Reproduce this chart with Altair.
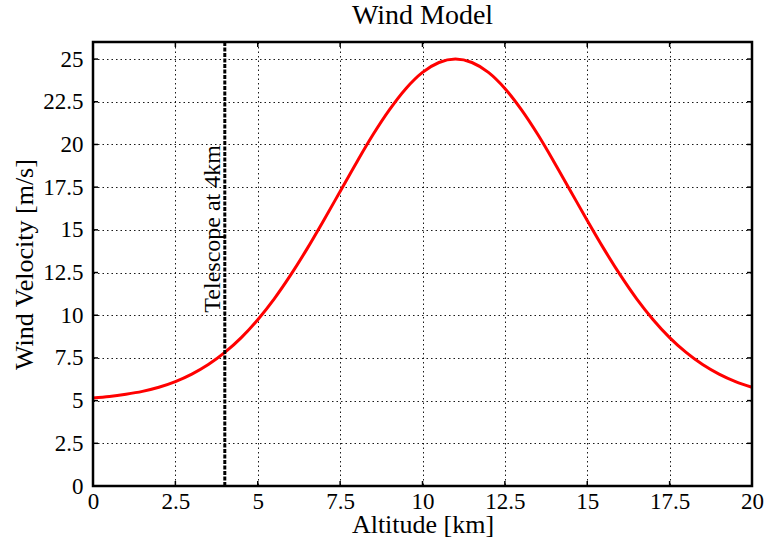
import altair as alt
import pandas as pd

# Altitude (km) and wind velocity (m/s)
altitude = [0, 0.5, 1, 1.5, 2, 2.5, 3, 3.5, 4, 4.5, 5, 5.5, 6, 6.5, 7, 7.5, 8, 8.5, 9, 9.5, 10, 10.5,
            11, 11.5, 12, 12.5, 13, 13.5, 14, 14.5, 15, 15.5, 16, 16.5, 17, 17.5, 18, 18.5, 19, 19.5, 20]
velocity = [5.16, 5.24, 5.37, 5.54, 5.78, 6.11, 6.55, 7.11, 7.82, 8.69, 9.74, 10.96, 12.36, 13.90, 15.55,
            17.25, 18.95, 20.58, 22.04, 23.28, 24.22, 24.80, 25.00, 24.80, 24.22, 23.28, 22.04, 20.58,
            18.95, 17.25, 15.55, 13.90, 12.36, 10.96, 9.74, 8.69, 7.82, 7.11, 6.55, 6.11, 5.78]

x_ticks = [0, 2.5, 5, 7.5, 10, 12.5, 15, 17.5, 20]
y_ticks = [0, 2.5, 5, 7.5, 10, 12.5, 15, 17.5, 20, 22.5, 25]
telescope_alt = [4]
telescope_label = ["Telescope at 4km"]
telescope_label_y = [10.15]

W, H = 659, 444
FONT = "Liberation Serif"

df = pd.DataFrame({"alt": altitude, "vel": velocity})
xt = pd.DataFrame({"t": x_ticks})
yt = pd.DataFrame({"t": y_ticks})
tel = pd.DataFrame({"alt": telescope_alt, "label": telescope_label, "y": telescope_label_y})
frame_df = pd.DataFrame({"k": [0]})

xscale = alt.Scale(domain=[0, 20], nice=False, zero=False)
yscale = alt.Scale(domain=[0, 26], nice=False, zero=False)

xaxis = alt.Axis(values=x_ticks, grid=True, gridColor="black", gridDash=[1.5, 3], gridWidth=1,
                 gridOpacity=0.9, tickSize=0, domain=False, labelFont=FONT, labelFontSize=23,
                 labelColor="black", labelPadding=4, title="Altitude [km]", titleFont=FONT,
                 titleFontSize=26, titleFontWeight="normal", titleColor="black",
                 titleBaseline="alphabetic", titleY=46, labelFlush=False,
                 labelExpr="datum.value")
yaxis = alt.Axis(values=y_ticks, grid=True, gridColor="black", gridDash=[1.5, 3], gridWidth=1,
                 gridOpacity=0.9, tickSize=0, domain=False, labelFont=FONT, labelFontSize=23,
                 labelColor="black", labelPadding=10, title="Wind Velocity [m/s]", titleFont=FONT,
                 titleFontSize=26, titleFontWeight="normal", titleColor="black",
                 titleBaseline="alphabetic", titleX=-61, titleY=H / 2, labelFlush=False,
                 labelExpr="datum.value")

curve = alt.Chart(df).mark_line(color="#ff0000", strokeWidth=3, interpolate="monotone").encode(
    x=alt.X("alt:Q", scale=xscale, axis=xaxis),
    y=alt.Y("vel:Q", scale=yscale, axis=yaxis),
)

vline = alt.Chart(tel).mark_rule(color="black", strokeWidth=3, strokeDash=[4, 1.5]).encode(
    x=alt.X("alt:Q", scale=xscale),
)

label = alt.Chart(tel).mark_text(angle=270, align="left", baseline="alphabetic", dy=-5,
                                 font=FONT, fontSize=24, color="black").encode(
    x=alt.X("alt:Q", scale=xscale),
    y=alt.Y("y:Q", scale=yscale),
    text="label:N",
)

tick_style = dict(color="black", strokeWidth=1.5)
xt_bottom = alt.Chart(xt).mark_rule(**tick_style).encode(
    x=alt.X("t:Q", scale=xscale), y=alt.value(H), y2=alt.value(H - 5))
xt_top = alt.Chart(xt).mark_rule(**tick_style).encode(
    x=alt.X("t:Q", scale=xscale), y=alt.value(0), y2=alt.value(5))
yt_left = alt.Chart(yt).mark_rule(**tick_style).encode(
    y=alt.Y("t:Q", scale=yscale), x=alt.value(0), x2=alt.value(5))
yt_right = alt.Chart(yt).mark_rule(**tick_style).encode(
    y=alt.Y("t:Q", scale=yscale), x=alt.value(W), x2=alt.value(W - 5))

frame = alt.Chart(frame_df).mark_rect(fillOpacity=0, stroke="black", strokeWidth=2.5).encode(
    x=alt.value(0), x2=alt.value(W), y=alt.value(0), y2=alt.value(H))

chart = alt.layer(curve, vline, label, xt_bottom, xt_top, yt_left, yt_right, frame).properties(
    width=W, height=H,
    title=alt.TitleParams("Wind Model", font=FONT, fontSize=28, fontWeight="normal", color="black",
                          offset=11, anchor="middle"),
    autosize=alt.AutoSizeParams(type="none"),
    padding={"left": 93, "top": 42, "right": 12, "bottom": 55},
).configure_view(stroke=None).configure(background="white")

chart.save("out.html", embed_options={"renderer": "svg", "actions": False})
